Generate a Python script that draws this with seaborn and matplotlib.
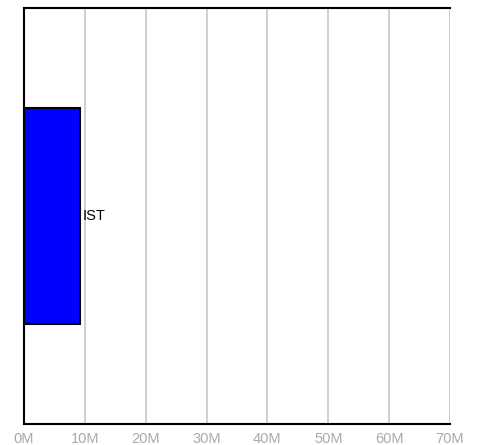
import matplotlib
matplotlib.use("Agg")
import matplotlib.pyplot as plt
import seaborn as sns
import pandas as pd
from matplotlib.ticker import FuncFormatter, MultipleLocator

# data
categories = ["IST"]
values = [9.2e6]

df = pd.DataFrame({"name": categories, "value": values})

sns.set_style("white")
plt.rcParams["font.family"] = ["Liberation Sans", "DejaVu Sans"]

fig = plt.figure(figsize=(4.78, 4.45), dpi=100)
ax = fig.add_axes([24 / 478, 21 / 445, 426 / 478, 416 / 445])

sns.barplot(data=df, x="value", y="name", orient="h", color="#0000ff",
            edgecolor="black", linewidth=1.5, width=0.52, saturation=1, ax=ax)

ax.bar_label(ax.containers[0], labels=categories, padding=2, fontsize=10.5, color="black")

ax.set_xlim(0, 70e6)
ax.set_ylim(0.5, -0.5)
ax.xaxis.set_major_locator(MultipleLocator(10e6))
ax.xaxis.set_major_formatter(FuncFormatter(lambda x, _: f"{x / 1e6:.0f}M"))
ax.set_yticks([])
ax.set_xlabel("")
ax.set_ylabel("")
ax.tick_params(axis="x", length=0, labelsize=10.5, labelcolor="#aaaaaa", pad=6)
ax.grid(axis="x", color="#c8c8c8", linewidth=1.2)
ax.set_axisbelow(True)

for side in ["left", "top", "bottom"]:
    ax.spines[side].set_color("black")
    ax.spines[side].set_linewidth(1.5)
ax.spines["right"].set_visible(False)

fig.savefig("out.png", dpi=100)
